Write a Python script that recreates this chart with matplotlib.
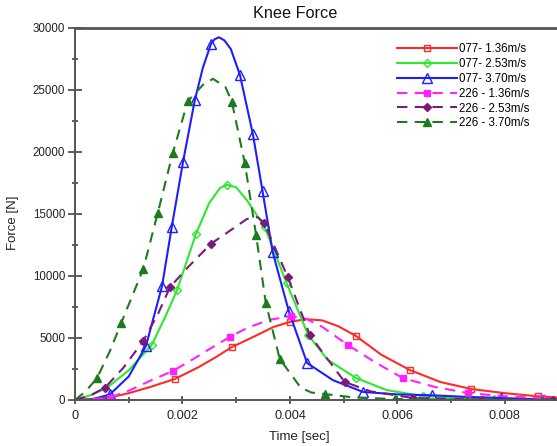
"""Knee force against time for two specimens at three impact speeds"""
import matplotlib
matplotlib.use("Agg")
import matplotlib.pyplot as plt
from matplotlib.ticker import MultipleLocator, FuncFormatter

plt.rcParams['font.family'] = ['Liberation Sans', 'DejaVu Sans']

# specimen 077, 1.36 m/s
x_077_136 = [0, 0.0003, 0.00065, 0.001, 0.0014, 0.00186, 0.0023, 0.0026, 0.00292, 0.0033,
             0.0037, 0.0040, 0.0043, 0.0046, 0.0049, 0.00523, 0.0057, 0.00623, 0.0068,
             0.00737, 0.0080, 0.00861, 0.00897]
f_077_136 = [0, 80, 200, 550, 1050, 1700, 2650, 3400, 4270, 5050,
             5900, 6300, 6520, 6420, 5950, 5160, 3650, 2420, 1450,
             890, 550, 300, 200]
mk_077_136 = [2, 5, 8, 11, 15, 17, 19, 21]

# specimen 077, 2.53 m/s
x_077_253 = [0, 0.0003, 0.0006, 0.001, 0.00143, 0.0017, 0.0019, 0.00225, 0.0025, 0.0027,
             0.00283, 0.0030, 0.0032, 0.00353, 0.00394, 0.00434, 0.0047, 0.00523, 0.0058,
             0.00647, 0.0072, 0.0078, 0.0085, 0.00897]
f_077_253 = [0, 400, 1000, 2400, 4450, 6900, 8870, 13390, 15900, 17100,
             17350, 17150, 16100, 13950, 9400, 5240, 3250, 1770, 800,
             320, 150, 80, 30, 20]
mk_077_253 = [4, 6, 7, 10, 13, 14, 15, 17, 19, 21]

# specimen 077, 3.70 m/s
x_077_370 = [0, 0.0003, 0.00065, 0.001, 0.00132, 0.00162, 0.0018, 0.00201, 0.00223, 0.00238,
             0.00253, 0.0026, 0.00268, 0.00278, 0.0029, 0.00307, 0.00331, 0.00349, 0.00368,
             0.00398, 0.00432, 0.0048, 0.00536, 0.006, 0.00664, 0.0073, 0.00793, 0.0085,
             0.00897]
f_077_370 = [0, 30, 450, 1900, 4350, 9190, 13950, 19190, 24190, 26800,
             28710, 29100, 29250, 29000, 28300, 26210, 21450, 16850, 11900,
             7150, 2980, 1600, 650, 450, 380, 250, 160, 80,
             50]
mk_077_370 = [2, 4, 5, 6, 7, 8, 10, 15, 16, 17, 18, 19, 20, 22, 24, 26]

# specimen 226, 1.36 m/s
x_226_136 = [0, 0.0003, 0.00065, 0.001, 0.0014, 0.00182, 0.0022, 0.0025, 0.00288, 0.0032,
             0.0036, 0.00402, 0.0043, 0.0046, 0.00508, 0.0056, 0.0061, 0.0067, 0.00731,
             0.0080, 0.0087, 0.00897]
f_226_136 = [0, 60, 200, 750, 1550, 2340, 3300, 4100, 5080, 5800,
             6450, 6770, 6550, 5900, 4430, 3000, 1770, 1050, 560,
             300, 150, 100]
mk_226_136 = [2, 5, 8, 11, 14, 16, 18, 20]

# specimen 226, 2.53 m/s
x_226_253 = [0, 0.0003, 0.00056, 0.0009, 0.00127, 0.00155, 0.00177, 0.0021, 0.00253, 0.0029,
             0.0032, 0.0034, 0.00352, 0.0037, 0.00396, 0.00437, 0.0047, 0.00502, 0.0055,
             0.00629, 0.00757, 0.0089]
f_226_253 = [0, 400, 1000, 2600, 4760, 7000, 9110, 10700, 12600, 13700,
             14600, 14750, 14270, 12500, 9900, 5240, 3300, 1450, 700,
             160, 30, 10]
mk_226_253 = [2, 4, 6, 8, 12, 14, 15, 17, 19, 20, 21]

# specimen 226, 3.70 m/s
x_226_370 = [0, 0.0002, 0.00041, 0.00065, 0.00086, 0.00127, 0.00154, 0.00182, 0.0021, 0.0024,
             0.00257, 0.0028, 0.00292, 0.00316, 0.00337, 0.00355, 0.00381, 0.0042, 0.0044,
             0.00465, 0.0052, 0.00595, 0.0073, 0.00869, 0.00897]
f_226_370 = [0, 700, 1770, 3950, 6210, 10560, 15080, 19920, 24110, 25500,
             25900, 25240, 24030, 19110, 13310, 7850, 3310, 1000, 600,
             480, 200, 80, 20, 10, 10]
mk_226_370 = [2, 4, 5, 6, 7, 8, 12, 13, 14, 15, 16, 19, 21, 22, 23]

labels = ['077- 1.36m/s', '077- 2.53m/s', '077- 3.70m/s',
          '226 - 1.36m/s', '226 - 2.53m/s', '226 - 3.70m/s']

fig = plt.figure(figsize=(5.57, 4.46), dpi=100)
ax = fig.add_axes([75 / 557, 46 / 446, 482 / 557, 372 / 446])

dash = (5, 3.5)
# x, y, marker indices, colour, marker, marker size, open marker, dash pattern
series = [
    (x_077_136, f_077_136, mk_077_136, '#ff2a2a', 's', 4.5, True, None),
    (x_077_253, f_077_253, mk_077_253, '#2ee82e', 'D', 4.5, True, None),
    (x_077_370, f_077_370, mk_077_370, '#1e1eff', '^', 6.5, True, None),
    (x_226_136, f_226_136, mk_226_136, '#ff22ff', 's', 4.3, False, dash),
    (x_226_253, f_226_253, mk_226_253, '#7a1a7a', 'D', 4.3, False, dash),
    (x_226_370, f_226_370, mk_226_370, '#1c7c1c', '^', 5.8, False, dash),
]

handles = []
for (xs, ys, mk, color, marker, size, hollow, dashes), label in zip(series, labels):
    line, = ax.plot(xs, ys, color=color, lw=1.5, marker=marker, markevery=mk,
                    markersize=size, markeredgewidth=1.0,
                    markerfacecolor='none' if hollow else color, label=label)
    if dashes:
        line.set_dashes(dashes)
    handles.append(line)

ax.set_xlim(0, 0.00897)
ax.set_ylim(0, 30000)

ax.xaxis.set_major_locator(MultipleLocator(0.002))
ax.xaxis.set_minor_locator(MultipleLocator(0.001))
ax.yaxis.set_major_locator(MultipleLocator(5000))
ax.yaxis.set_minor_locator(MultipleLocator(2500))
ax.xaxis.set_major_formatter(FuncFormatter(lambda v, p: f'{v:g}'))
ax.yaxis.set_major_formatter(FuncFormatter(lambda v, p: f'{v:.0f}'))

ax.tick_params(axis='x', which='major', direction='inout', length=6, width=1.2,
               labelsize=9.2, pad=4, colors='#444444', labelcolor='#222222')
ax.tick_params(axis='x', which='minor', direction='inout', length=4, width=1.2,
               colors='#444444')
ax.tick_params(axis='y', which='major', direction='inout', length=10, width=1.2,
               labelsize=8.3, pad=2, colors='#444444', labelcolor='#222222')
ax.tick_params(axis='y', which='minor', direction='inout', length=5, width=1.2,
               colors='#444444')

for side in ['left', 'bottom', 'top']:
    ax.spines[side].set_color('#555555')
    ax.spines[side].set_linewidth(1.4)
ax.spines['top'].set_linewidth(2)
ax.spines['right'].set_visible(False)

fig.text(295 / 557, 1 - 13 / 446, 'Knee Force', ha='center', va='center',
         fontsize=11.7, color='#111111')
fig.text(299 / 557, 1 - 437 / 446, 'Time [sec]', ha='center', va='center',
         fontsize=9.5, color='#222222')
fig.text(13 / 557, 1 - 223 / 446, 'Force [N]', ha='center', va='center',
         rotation=90, fontsize=9.5, color='#222222')

ax.legend(handles, labels, loc='upper left', bbox_to_anchor=(397 / 557, 1 - 43 / 446),
          bbox_transform=fig.transFigure, frameon=False, fontsize=8.3,
          handlelength=5.2, handletextpad=0.2, labelspacing=0.25,
          borderpad=0, borderaxespad=0, numpoints=1)

fig.savefig('out.png', dpi=100)
